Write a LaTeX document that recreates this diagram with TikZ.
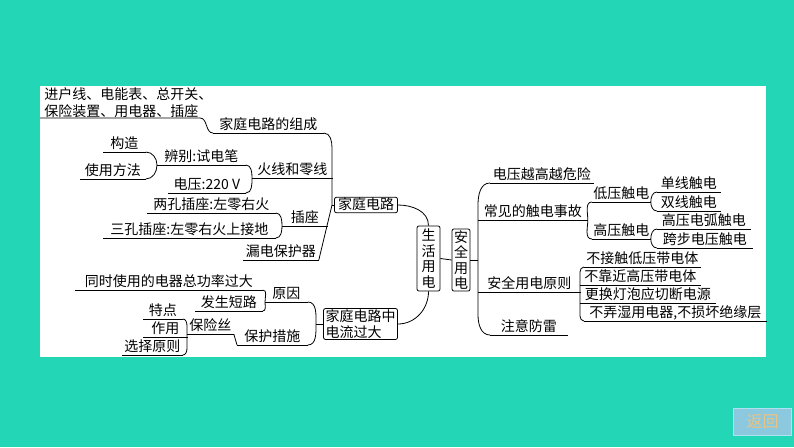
\documentclass[tikz,border=0pt]{standalone}
\usepackage{fontspec}
\newfontfamily\cjk{Noto Sans CJK SC}
\usepackage{tikz}
\usetikzlibrary{positioning}
\definecolor{bgteal}{RGB}{34,214,182}
\definecolor{backblue}{RGB}{140,200,222}
\definecolor{backedge}{RGB}{175,226,240}
\definecolor{backtext}{RGB}{235,195,130}

\begin{document}
\begin{tikzpicture}[
    x=1pt, y=-1pt,
    font=\cjk\fontsize{14}{17}\selectfont,
    line width=0.8pt,
    item/.style={
      anchor=south west,
      inner xsep=1pt,
      inner ysep=1.5pt,
      text height=11.5pt,
      text depth=2pt
      },
    box/.style={
      draw,
      rounded corners=2pt,
      inner xsep=3.5pt,
      inner ysep=1pt
      },
    column/.style={
      box,
      align=center,
      font=\cjk\fontsize{14}{15.5}\selectfont
      }
    ]
    \useasboundingbox (0,0) rectangle (794,447);
    \fill[bgteal] (0,0) rectangle (794,447);
    \fill[white] (40,86) rectangle (766,357);

    % centre
    \node[column, inner xsep=4.5pt, inner ysep=3pt] (sh) at (428.5,258.5) {生\\活\\用\\电};
    \node[column, inner xsep=2pt, inner ysep=1.5pt] (aq) at (461,260) {安\\全\\用\\电};
    \node[box, text height=11.5pt, text depth=2pt] (jt) at (366,205) {家庭电路};
    \node[box, align=left, inner xsep=2pt, font=\cjk\fontsize{14}{16}\selectfont] (gl) at (360.5,324) {家庭电路中\\电流过大};

    % left upper branch
    \node[item, align=left, inner xsep=4pt, inner ysep=0pt, text height=, text depth=,
      font=\cjk\fontsize{14}{16.5}\selectfont] (comp) at (40,118) {进户线、电能表、总开关、\\保险装置、用电器、插座};
    \node[item, minimum width=110] (zc) at (213,133) {家庭电路的组成};
    \node[item, minimum width=80] (hx) at (252,178) {火线和零线};
    \node[item, minimum width=88] (bb) at (157,165) {辨别:试电笔};
    \node[item, minimum width=77] (dy) at (168,193) {电压:220 V};
    \node[item, minimum width=42] (gz) at (103,152) {构造};
    \node[item, minimum width=65] (sy) at (80,179) {使用方法};
    \node[item, minimum width=128] (lk) at (147,213) {两孔插座:左零右火};
    \node[item, minimum width=45] (cz) at (282,226) {插座};
    \node[item, minimum width=172] (sk) at (103,238) {三孔插座:左零右火上接地};
    \node[item, minimum width=75] (ld) at (243,260) {漏电保护器};

    % left lower branch
    \node[item, minimum width=187] (ts) at (75,290) {同时使用的电器总功率过大};
    \node[item, minimum width=67] (dl) at (195,311) {发生短路};
    \node[item, minimum width=42] (yy) at (265,302) {原因};
    \node[item, minimum width=70] (bh) at (237,345) {保护措施};
    \node[item, minimum width=46] (bx) at (187,334) {保险丝};
    \node[item, minimum width=39] (td) at (143,319) {特点};
    \node[item, minimum width=44] (zy) at (143,337) {作用};
    \node[item, minimum width=60] (xz) at (122,355) {选择原则};

    % right branch
    \node[item, minimum width=103] (wx) at (490,183) {电压越高越危险};
    \node[item, minimum width=109] (cj) at (478,220) {常见的触电事故};
    \node[item, minimum width=58] (dz) at (592,202) {低压触电};
    \node[item, minimum width=58] (gy) at (592,239) {高压触电};
    \node[item, minimum width=63] (dx) at (657,192) {单线触电};
    \node[item, minimum width=63] (sx) at (657,211) {双线触电};
    \node[item, minimum width=93] (dh) at (657,229) {高压电弧触电};
    \node[item, minimum width=95] (kb) at (657,248) {跨步电压触电};
    \node[item, minimum width=102] (yz) at (478,292) {安全用电原则};
    \node[item, minimum width=116] (y1) at (584,267) {不接触低压带电体};
    \node[item, minimum width=120] (y2) at (580,285) {不靠近高压带电体};
    \node[item, minimum width=135] (y3) at (580,303) {更换灯泡应切断电源};
    \node[item, minimum width=182] (y4) at (584,321) {不弄湿用电器,不损坏绝缘层};
    \node[item, minimum width=77] (fl) at (490,335) {注意防雷};

    \coordinate (jtj) at (332,205);
    \coordinate (glj) at (316,324);
    \coordinate (aqj) at (478,260);

    \foreach \n in {zc,hx,bb,dy,gz,sy,lk,cz,sk,ld,ts,dl,yy,bh,bx,td,zy,xz,wx,cj,dz,gy,dx,sx,dh,kb,yz,y1,y2,y3,y4,fl}
      \draw (\n.south west) -- (\n.south east);

    \draw (comp.south west) -- ++(160,0) to[out=0,in=180] (zc.south west);
    \draw (zc.south east) to[out=0,in=90] (332,148) -- (jtj) -- (ld.south east);
    \draw (jt.west) -- (jtj);
    \draw (bb.south east) to[out=0,in=90] (hx.south west) to[out=-90,in=0] (dy.south east);
    \draw (gz.south east) to[out=0,in=90] (bb.south west) to[out=-90,in=0] (sy.south east);
    \draw (lk.south east) to[out=0,in=90] (cz.south west) to[out=-90,in=0] (sk.south east);

    \draw (ts.south east) to[out=0,in=90] (yy.south west) to[out=-90,in=0] (dl.south east);
    \draw (yy.south east) to[out=0,in=90] (glj) to[out=-90,in=0] (bh.south east);
    \draw (gl.west) -- (glj);
    \draw (bx.south east) -- (bh.south west);
    \draw (td.south east) to[out=0,in=90] (187,326) -- (187,348) to[out=-90,in=0] (xz.south east);

    \draw (jt.east) to[out=0,in=90] (sh.north);
    \draw (sh.south) to[out=-90,in=0] (gl.east);
    \draw (sh.east) -- (aq.west);
    \draw (aq.east) -- (aqj);

    \draw (wx.south west) to[out=180,in=90] (478,205) -- (478,315) to[out=-90,in=180] (fl.south west);
    \draw (dz.south west) to[out=180,in=90] (cj.south east) to[out=-90,in=180] (gy.south west);
    \draw (dx.south west) to[out=180,in=90] (dz.south east) to[out=-90,in=180] (sx.south west);
    \draw (dh.south west) to[out=180,in=90] (gy.south east) to[out=-90,in=180] (kb.south west);
    \draw (y1.south west) to[out=180,in=90] (580,272) -- (580,316) to[out=-90,in=180] (y4.south west);

    % back button
    \node[draw=backedge, line width=1.5pt, fill=backblue, text=backtext, minimum width=58, minimum height=27,
      font=\cjk\fontsize{16}{16}\selectfont] (back) at (762.5,422) {返回};
\end{tikzpicture}
\end{document}
